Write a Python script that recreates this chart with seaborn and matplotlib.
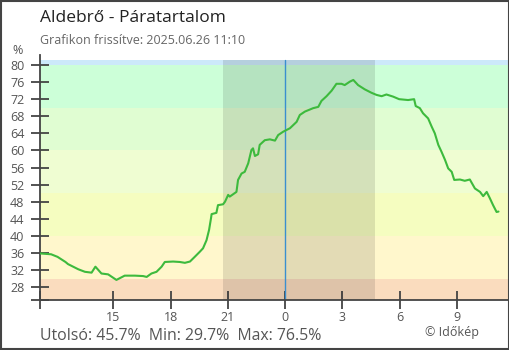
'''
Aldebrő - relative humidity, last 24 hours
'''

import numpy as np
import pandas as pd
import seaborn as sns
import matplotlib.pyplot as plt
import matplotlib.dates as mdates
from matplotlib.patches import Rectangle
from matplotlib.ticker import FixedLocator, FuncFormatter

TITLE = 'Aldebrő - Páratartalom'
SUBTITLE = 'Grafikon frissítve: 2025.06.26 11:10'
FOOTER = 'Utolsó: 45.7%  Min: 29.7%  Max: 76.5%'
CREDIT = '© Időkép'

# readings
times = [
    '06-25 11:10', '06-25 11:45', '06-25 12:05', '06-25 12:30', '06-25 12:38',
    '06-25 12:54', '06-25 13:10', '06-25 13:31', '06-25 13:52', '06-25 14:04',
    '06-25 14:23', '06-25 14:44', '06-25 15:10', '06-25 15:36', '06-25 16:08',
    '06-25 16:34', '06-25 16:45', '06-25 17:00', '06-25 17:16', '06-25 17:32',
    '06-25 17:42', '06-25 18:08', '06-25 18:29', '06-25 18:45', '06-25 19:01',
    '06-25 19:16', '06-25 19:32', '06-25 19:42', '06-25 19:53', '06-25 20:01',
    '06-25 20:07', '06-25 20:09', '06-25 20:24', '06-25 20:29', '06-25 20:45',
    '06-25 20:51', '06-25 21:01', '06-25 21:06', '06-25 21:27', '06-25 21:32',
    '06-25 21:43', '06-25 21:53', '06-25 22:04', '06-25 22:14', '06-25 22:19',
    '06-25 22:25', '06-25 22:35', '06-25 22:40', '06-25 22:56', '06-25 23:12',
    '06-25 23:28', '06-25 23:38', '06-25 23:54', '06-26 00:15', '06-26 00:36',
    '06-26 00:46', '06-26 01:02', '06-26 01:28', '06-26 01:44', '06-26 01:54',
    '06-26 02:10', '06-26 02:26', '06-26 02:41', '06-26 02:57', '06-26 03:07',
    '06-26 03:23', '06-26 03:34', '06-26 03:49', '06-26 04:10', '06-26 04:31',
    '06-26 04:47', '06-26 05:03', '06-26 05:18', '06-26 05:39', '06-26 05:58',
    '06-26 06:26', '06-26 06:45', '06-26 06:50', '06-26 07:03', '06-26 07:13',
    '06-26 07:29', '06-26 07:40', '06-26 07:50', '06-26 08:01', '06-26 08:11',
    '06-26 08:22', '06-26 08:32', '06-26 08:43', '06-26 08:51', '06-26 09:09',
    '06-26 09:24', '06-26 09:40', '06-26 09:56', '06-26 10:12', '06-26 10:22',
    '06-26 10:33', '06-26 10:43', '06-26 10:53', '06-26 11:04', '06-26 11:10',
]
humidity = [
    35.9, 35.7, 35.1, 33.9, 33.4,
    32.8, 32.2, 31.6, 31.4, 32.8,
    31.2, 31.0, 29.7, 30.7, 30.7,
    30.6, 30.4, 31.2, 31.6, 32.8,
    33.9, 34.0, 33.9, 33.7, 34.0,
    35.1, 36.3, 37.1, 39.0, 41.4,
    44.1, 45.1, 45.4, 47.2, 47.4,
    48.0, 49.6, 49.2, 50.3, 53.1,
    54.6, 55.0, 57.0, 60.1, 60.5,
    58.7, 59.1, 61.3, 62.4, 62.6,
    62.3, 63.6, 64.4, 65.2, 66.7,
    68.3, 69.1, 69.9, 70.2, 71.6,
    72.7, 74.0, 75.6, 75.6, 75.3,
    76.1, 76.5, 75.3, 74.3, 73.5,
    73.0, 72.7, 73.1, 72.6, 72.0,
    71.8, 72.0, 70.4, 69.9, 68.7,
    67.5, 65.6, 64.0, 61.3, 59.7,
    57.8, 55.8, 55.0, 53.1, 53.2,
    52.9, 53.2, 51.1, 50.3, 49.3,
    50.3, 48.8, 47.2, 45.6, 45.7,
]

# humidity bands (lower, upper, colour)
band_edges = [25, 30, 40, 50, 60, 70, 80, 81.2]
band_colors = ['#fadcbe', '#fff7cc', '#f5fdc0', '#effdd2', '#e0fdd2', '#ccffd8', '#cce9fa']

night = ('2025-06-25 20:44', '2025-06-26 04:42')
x_hours = [15, 18, 21, 0, 3, 6, 9]
y_ticks = list(range(28, 81, 4))

df = pd.DataFrame({'time': pd.to_datetime(['2025-' + t for t in times]), 'rh': humidity})

sns.set_theme(style='white')
plt.rcParams['font.family'] = ['Open Sans', 'DejaVu Sans']

fig = plt.figure(figsize=(5.1, 3.5), dpi=100)
ax = fig.add_axes([40 / 510, 50 / 350, 469 / 510, 245 / 350])

x0 = pd.Timestamp('2025-06-25 11:10')
x1 = pd.Timestamp('2025-06-26 11:43')
ax.set_xlim(x0, x1)
ax.set_ylim(25, 82.34)

for lo, hi, c in zip(band_edges[:-1], band_edges[1:], band_colors):
    ax.axhspan(lo, hi, color=c, lw=0, zorder=0)

top_frac = (band_edges[-1] - 25) / (82.34 - 25)
ax.axvspan(pd.Timestamp(night[0]), pd.Timestamp(night[1]), ymax=top_frac,
           color='black', alpha=0.11, lw=0, zorder=1)
ax.axvline(pd.Timestamp('2025-06-26 00:00'), ymax=top_frac, color='#3a8fcf', lw=1.0, zorder=2)

sns.lineplot(data=df, x='time', y='rh', ax=ax, color='#3dba3d', lw=1.5, zorder=3)

ax.set_xlabel('')
ax.set_ylabel('')
for s in ['top', 'right']:
    ax.spines[s].set_visible(False)
for s in ['left', 'bottom']:
    ax.spines[s].set_color('#444444')
    ax.spines[s].set_linewidth(1.3)

ax.xaxis.set_major_locator(mdates.HourLocator(byhour=x_hours))
ax.xaxis.set_major_formatter(FuncFormatter(lambda v, p: str(mdates.num2date(v).hour)))
ax.xaxis.set_minor_locator(FixedLocator([mdates.date2num(x0)]))
ax.yaxis.set_major_locator(FixedLocator(y_ticks))
ax.yaxis.set_minor_locator(FixedLocator([25]))

ax.tick_params(which='both', bottom=True, left=True, direction='inout', length=12.5,
               width=1.3, color='#444444', labelsize=9, labelcolor='#555555')
ax.tick_params(axis='x', which='major', pad=1.5)
ax.tick_params(axis='y', which='major', pad=5)

fig.text(17.5 / 510, 1 - 51 / 350, '%', ha='center', va='center', fontsize=9, color='#555555')
fig.text(40 / 510, 1 - 18 / 350, TITLE, ha='left', va='center', fontsize=12.5, color='#222222')
fig.text(40 / 510, 1 - 41 / 350, SUBTITLE, ha='left', va='center', fontsize=9, color='#666666')
fig.text(40 / 510, 1 - 339.5 / 350, FOOTER, ha='left', va='baseline', fontsize=11.4, color='#555555')
fig.text(425 / 510, 1 - 336 / 350, CREDIT, ha='left', va='baseline', fontsize=9, color='#555555')

fig.patches.append(Rectangle((0.001, 0.002), 0.997, 0.996, transform=fig.transFigure,
                             fill=False, ec='#444444', lw=1.5))

fig.savefig('out.png', dpi=100)
